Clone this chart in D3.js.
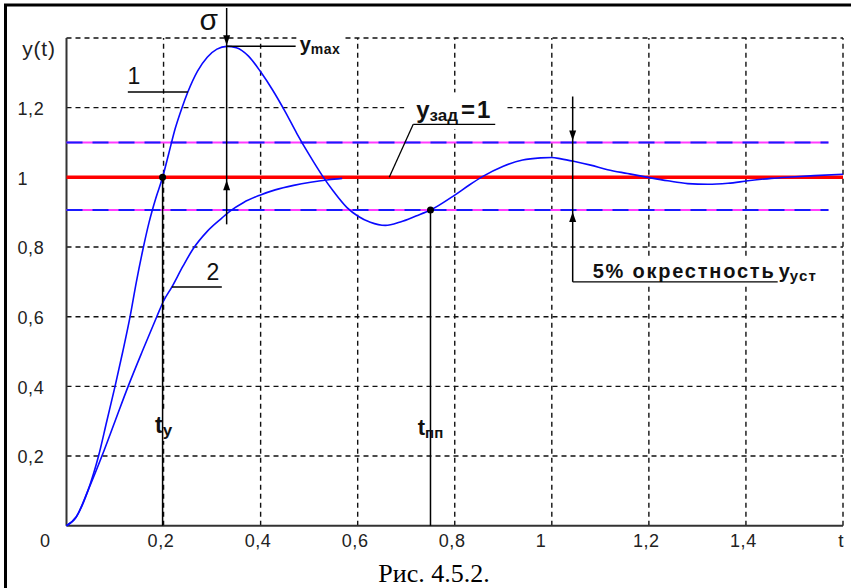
<!DOCTYPE html>
<html><head><meta charset="utf-8">
<script src="https://cdn.jsdelivr.net/npm/d3@7"></script>
<style>
html,body{margin:0;padding:0;background:#fff;}
svg{display:block;}
</style></head><body>
<svg id="chart" width="851" height="588" font-family="Liberation Sans, Arial, sans-serif"></svg>
<script>
// ---- data ----
const curve1T = [0,0.02,0.044,0.066,0.083,0.1,0.116,0.131,0.144,0.157,0.17,0.184,0.198,0.211,0.224,0.238,0.25,0.27,0.29,0.31,0.33,0.35,0.375,0.4,0.425,0.45,0.475,0.5,0.527,0.55,0.578,0.6,0.626,0.657,0.688,0.72,0.75,0.8,0.83,0.857,0.9,0.94,0.977,1.0,1.019,1.045,1.08,1.115,1.156,1.198,1.239,1.28,1.321,1.363,1.404,1.452,1.493,1.541,1.6];
const curve1Y = [0,0.025,0.10,0.20,0.30,0.40,0.50,0.60,0.70,0.79,0.87,0.94,1.0,1.07,1.14,1.20,1.245,1.305,1.345,1.368,1.376,1.372,1.348,1.303,1.25,1.19,1.125,1.065,1.005,0.96,0.913,0.889,0.871,0.862,0.872,0.889,0.906,0.949,0.978,1.002,1.032,1.05,1.056,1.057,1.053,1.046,1.035,1.022,1.011,1.0,0.99,0.982,0.98,0.983,0.99,0.997,1.001,1.005,1.009];
const curve2T = [0,0.02,0.044,0.073,0.1,0.127,0.156,0.186,0.2,0.217,0.24,0.261,0.29,0.32,0.337,0.365,0.397,0.43,0.468,0.503,0.54,0.568];
const curve2Y = [0,0.025,0.10,0.20,0.30,0.40,0.50,0.60,0.645,0.685,0.745,0.795,0.845,0.883,0.903,0.928,0.948,0.964,0.977,0.986,0.993,0.997];
const xTicks = [0.2,0.4,0.6,0.8,1,1.2,1.4];
const yTicks = [0.2,0.4,0.6,0.8,1,1.2];
const gridX = [0.2,0.4,0.6,0.8,1,1.2,1.4,1.6];
const gridY = [0.2,0.4,0.6,0.8,1,1.2,1.4];
const setpoint = 1.0;
const bandUpper = 1.1, bandLower = 0.906, bandEndT = 1.57;
const tRise = 0.198, tSettle = 0.75, tPeak = 0.33, yMax = 1.376;
const tBandMark = 1.043, tRefLeader = 0.665;
const label1 = {t:0.25, y:1.245, text:"1"};
const label2 = {t:0.217, y:0.685, text:"2"};
const captionText = "Рис. 4.5.2.";

// ---- scales ----
const svg = d3.select("#chart");
const x = d3.scaleLinear().domain([0,1.6]).range([66.5,843]);
const y = d3.scaleLinear().domain([0,1.4]).range([525.7,38]);
const fmt = d => String(+d.toFixed(1)).replace(".", ",");

// frame
svg.append("rect").attr("x",5.5).attr("y",5).attr("width",900).attr("height",700)
  .attr("fill","none").attr("stroke","#000").attr("stroke-width",3);

// grid
const grid = svg.append("g");
grid.selectAll("line.gx").data(gridX).join("line")
  .attr("x1",d=>x(d)).attr("x2",d=>x(d)).attr("y1",y(0)).attr("y2",y(1.4))
  .attr("stroke","#111").attr("stroke-width",1.4).attr("stroke-dasharray","5,4");
grid.selectAll("line.gy").data(gridY).join("line")
  .attr("y1",d=>y(d)).attr("y2",d=>y(d)).attr("x1",x(0)).attr("x2",x(1.6))
  .attr("stroke","#111").attr("stroke-width",1.4).attr("stroke-dasharray","5,4");

// axes lines
svg.append("line").attr("x1",x(0)).attr("x2",x(0)).attr("y1",y(0)).attr("y2",y(1.4))
  .attr("stroke","#333").attr("stroke-width",2);
svg.append("line").attr("x1",x(0)).attr("x2",x(1.6)).attr("y1",y(0)).attr("y2",y(0))
  .attr("stroke","#333").attr("stroke-width",2);

// tick labels through d3 axes
const xa = svg.append("g").attr("transform",`translate(0,${y(0)})`)
  .call(d3.axisBottom(x).tickValues(xTicks).tickSize(0).tickFormat(fmt));
xa.select(".domain").remove();
xa.selectAll("text").attr("text-anchor","start").attr("x",-16.5).attr("y",21.5).attr("dy",0)
  .attr("font-size",18).attr("font-family","Liberation Sans, Arial, sans-serif").attr("fill","#222").attr("letter-spacing",0.6);
const ya = svg.append("g").attr("transform",`translate(${x(0)},0)`)
  .call(d3.axisLeft(y).tickValues(yTicks).tickSize(0).tickFormat(fmt));
ya.select(".domain").remove();
ya.selectAll("text").attr("text-anchor","start").attr("x",-49).attr("dy","0.38em")
  .attr("font-size",18).attr("font-family","Liberation Sans, Arial, sans-serif").attr("fill","#222").attr("letter-spacing",0.6);

svg.append("text").attr("x",45).attr("y",y(0)+21.5).attr("text-anchor","middle")
  .attr("font-size",18).attr("fill","#222").text("0");
svg.append("text").attr("x",x(1.6)-2).attr("y",y(0)+21.5).attr("text-anchor","middle")
  .attr("font-size",19).attr("fill","#222").text("t");
svg.append("text").attr("x",39).attr("y",y(1.4)+18).attr("text-anchor","middle")
  .attr("font-size",21).attr("letter-spacing",0.8).attr("fill","#222").text("y(t)");

// band lines (5% neighbourhood)
[bandUpper, bandLower].forEach(v=>{
  svg.append("line").attr("x1",x(0)).attr("x2",x(bandEndT)).attr("y1",y(v)).attr("y2",y(v))
    .attr("stroke","#ff3cff").attr("stroke-width",2);
  svg.append("line").attr("x1",x(0)).attr("x2",x(bandEndT)).attr("y1",y(v)).attr("y2",y(v))
    .attr("stroke","#1a1aff").attr("stroke-width",2).attr("stroke-dasharray","16,10");
});
// setpoint line
svg.append("line").attr("x1",x(0)).attr("x2",x(1.6)).attr("y1",y(setpoint)).attr("y2",y(setpoint))
  .attr("stroke","#ff0000").attr("stroke-width",3.5);

// curves
const line = d3.line().x(d=>x(d[0])).y(d=>y(d[1])).curve(d3.curveMonotoneX);
svg.append("path").datum(d3.zip(curve1T,curve1Y)).attr("d",line)
  .attr("fill","none").attr("stroke","#0a0aff").attr("stroke-width",1.6);
svg.append("path").datum(d3.zip(curve2T,curve2Y)).attr("d",line)
  .attr("fill","none").attr("stroke","#0a0aff").attr("stroke-width",1.6);

// helpers
const ann = svg.append("g");
function seg(x1,y1,x2,y2,w){ann.append("line").attr("x1",x1).attr("y1",y1).attr("x2",x2).attr("y2",y2)
  .attr("stroke","#000").attr("stroke-width",w||1.5);}
function arrow(xc,tip,dir){ // dir = 1 pointing down, -1 pointing up
  const L=10,W=3.5;
  ann.append("path").attr("d",`M${xc},${tip} L${xc-W},${tip-dir*L} L${xc+W},${tip-dir*L} Z`).attr("fill","#000");
}
function bgFor(textSel,px,py){
  const b=textSel.node().getBBox();
  return ann.insert("rect",":first-child").attr("x",b.x-px).attr("y",b.y-py)
    .attr("width",b.width+2*px).attr("height",b.height+2*py).attr("fill","#fff");
}
function subText(xp,yp,main,sub,ms,ss,anchor,extra,subSpacing){
  const t=ann.append("text").attr("x",xp).attr("y",yp).attr("font-weight","bold")
    .attr("fill","#111").attr("text-anchor",anchor||"start");
  t.append("tspan").attr("font-size",ms).text(main);
  t.append("tspan").attr("font-size",ss).attr("dy",3).attr("letter-spacing",subSpacing||0).text(sub);
  if(extra){t.append("tspan").attr("font-size",ms).attr("dy",-3).attr("dx",3).attr("letter-spacing",2).text(extra);}
  return t;
}

// sigma / y_max annotation
const xp = x(tPeak);
seg(xp,8,xp,y(setpoint)+47);
arrow(xp,y(yMax)-1,1);
arrow(xp,y(setpoint)+3,-1);
ann.append("text").attr("x",xp-18).attr("y",30).attr("text-anchor","middle")
  .attr("font-size",30).attr("fill","#111").text("σ");
seg(xp,y(yMax),xp+69,y(yMax));
const ymaxT = subText(xp+73,y(yMax)+4.5,"y","max",20,14,"start",null,0.5);
bgFor(ymaxT,3,1);

// curve labels
seg(x(label1.t)-60,y(label1.y),x(label1.t),y(label1.y));
ann.append("text").attr("x",x(label1.t)-54).attr("y",y(label1.y)-8).attr("text-anchor","middle")
  .attr("font-size",23).attr("fill","#111").text(label1.text);
seg(x(label2.t),y(label2.y),x(label2.t)+50,y(label2.y));
ann.append("text").attr("x",x(label2.t)+41).attr("y",y(label2.y)-7).attr("text-anchor","middle")
  .attr("font-size",23).attr("fill","#111").text(label2.text);

// y_зад = 1 label
const xr = x(tRefLeader);
const yzT = subText(xr+27,y(setpoint)-59,"y","зад",24,17,"start","=1");
bgFor(yzT,12,4);
seg(xr,y(setpoint),xr+24,y(setpoint)-53,1.3);
seg(xr+24,y(setpoint)-53,xr+106,y(setpoint)-53,1.3);

// rise time t_y
seg(x(tRise),y(setpoint),x(tRise),y(0));
ann.append("circle").attr("cx",x(tRise)).attr("cy",y(setpoint)).attr("r",3.5).attr("fill","#000");
const tyT = subText(x(tRise)+1,433,"t","y",23,17,"middle");
bgFor(tyT,1,1);

// settling time t_пп
seg(x(tSettle),y(bandLower),x(tSettle),y(0));
ann.append("circle").attr("cx",x(tSettle)).attr("cy",y(bandLower)).attr("r",3.5).attr("fill","#000");
const tppT = subText(x(tSettle),435,"t","пп",22,15,"middle");
bgFor(tppT,2,8);

// 5% neighbourhood annotation
const xb = x(tBandMark);
seg(xb,y(bandUpper)-46,xb,y(0.7));
arrow(xb,y(bandUpper)-2,1);
arrow(xb,y(bandLower)+2,-1);
const pctT = ann.append("text").attr("x",xb+20).attr("y",y(0.7)-4).attr("font-weight","bold")
  .attr("font-size",20).attr("fill","#111").attr("textLength",181).attr("lengthAdjust","spacing")
  .text("5% окрестность");
const yustT = subText(xb+206,y(0.7)-4,"y","уст",20,15,"start",null,1.2);
bgFor(pctT,6,3); bgFor(yustT,4,3);
seg(xb,y(0.7),xb+205,y(0.7),1.3);

// caption
svg.append("text").attr("x",434).attr("y",582).attr("text-anchor","middle")
  .attr("font-family","Liberation Serif, Times New Roman, serif").attr("font-size",26).attr("fill","#000")
  .text(captionText);
</script>
</body></html>
